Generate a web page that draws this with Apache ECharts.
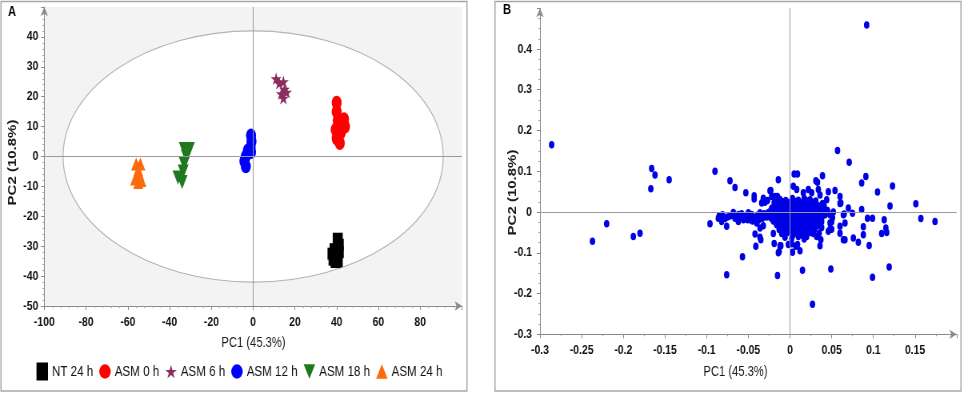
<!DOCTYPE html>
<html><head><meta charset="utf-8">
<script src="https://cdn.jsdelivr.net/npm/echarts@6/dist/echarts.min.js"></script>
<style>
html,body{margin:0;padding:0;background:#fff;overflow:hidden;width:964px;height:394px}
#c{width:1205px;height:394px;transform:scaleX(0.8);transform-origin:0 0}
</style>
</head><body><div id="c"></div>
<script>
// ---------- Panel A: PCA scores ----------
const groupNames = ['NT 24 h', 'ASM 0 h', 'ASM 6 h', 'ASM 12 h', 'ASM 18 h', 'ASM 24 h'];
const nt24 = [[40.5,-27.5],[41,-29.5],[39,-31],[38,-32.5],[41,-32],[38.5,-34.5],[40.5,-35],[39.5,-35.3]];
const asm0 = [[40,18],[40,15],[40.5,12],[43.5,12.5],[44,10],[39.5,9],[42,8],[40,6],[41.5,4.5]];
const asm6 = [[11,26],[12.5,24.5],[14.5,25],[15,22.5],[13.5,21],[14.5,19.5],[16,21.5]];
const asm12 = [[-1,7],[-0.8,5],[-1.2,3],[-1,1.5],[-2.5,2],[-3.5,0],[-4.2,-1.5],[-3.5,-3.3]];
const asm18 = [[-33,2.5],[-30.5,2.5],[-32,0],[-33,-2.5],[-33.5,-5],[-36,-7],[-34,-8.5]];
const asm24 = [[-56,-2.5],[-54,-2.5],[-55,-4.5],[-54.5,-6],[-56.5,-7.5],[-55,-8.7],[-53.5,-8]];
const hotellingEllipse = [[0, 0, 91, 42]]; // centre PC1, centre PC2, semi-axis PC1, semi-axis PC2
const axisNameX = 'PC1 (45.3%)';
const axisNameY = 'PC2 (10.8%)';

// ---------- Panel B: loadings ----------
const loadingsOuter = [
 [0.092,0.459],[-0.286,0.165],[0.057,0.151],[0.071,0.122],[-0.166,0.107],[-0.162,0.091],[-0.145,0.079],[-0.167,0.057],
 [-0.09,0.1],[-0.072,0.077],[-0.066,0.06],[-0.053,0.047],[-0.014,0.079],[0.005,0.093],[0.009,0.093],[0.039,0.089],
 [0.091,0.087],[0.086,0.071],[0.123,0.064],[0.105,0.049],[0.031,0.077],[0.033,0.073],[0.054,0.053],[-0.024,0.052],
 [-0.043,0.04],[-0.032,0.034],[-0.018,0.038],[-0.237,-0.072],[-0.22,-0.029],[-0.188,-0.06],[-0.18,-0.052],[-0.096,-0.029],
 [-0.076,-0.154],[-0.057,-0.11],[-0.015,-0.156],[-0.014,-0.1],[0.015,-0.143],[0.027,-0.226],[0.049,-0.14],[0.099,-0.16],
 [0.119,-0.135],[0.151,0.02],[0.157,-0.016],[0.174,-0.023],[0.12,0.015],[0.093,-0.015],[0.099,-0.015],[0.095,-0.082],
 [0.113,-0.019],[0.115,-0.039],[0.116,-0.05],[0.11,-0.053],[0.088,-0.036],[0.088,-0.056],[0.082,-0.074],[0.076,-0.064],
 [0.086,0.006],[0.075,-0.003],[0.07,0.01],[0.065,-0.005],[0.064,-0.068],[0.06,-0.052],[0.06,0.021],[0.06,0.038],
 [0.052,0.0],[0.051,-0.014],[0.05,-0.024],[0.048,-0.042],[0.045,0.004],[0.038,-0.038],[0.036,-0.083],[0.037,-0.068],
 [0.028,-0.053],[0.014,-0.056],[0.012,-0.095],[0.003,-0.099],[-0.002,-0.08],[0.002,-0.078],[0.009,-0.08],[-0.011,-0.083],
 [-0.013,-0.097],[-0.019,-0.077],[-0.02,-0.053],[-0.035,-0.068],[-0.041,-0.084],[-0.036,-0.062],[-0.042,-0.054],[-0.04,-0.027],
 [-0.036,-0.039],[-0.032,-0.034],[-0.062,-0.023],[-0.064,-0.015],[-0.068,-0.001],[-0.076,-0.035],[-0.082,-0.023],[-0.081,-0.007],
 [-0.086,-0.015],[-0.054,-0.011],[-0.05,-0.002],[-0.051,-0.019],[-0.056,-0.019],[-0.06,-0.011],[-0.048,-0.019],
 [-0.03,0.024],[-0.023,0.053],[-0.022,0.038],[-0.017,0.034],[-0.019,0.022],[0.004,0.063],[0.008,0.055],[0.016,0.047],
 [0.022,0.055],[0.026,0.047],[0.034,0.055],[0.036,0.042],[0.046,0.05],[0.044,0.03],[0.061,0.022],[0.041,0.014],
 [0.048,-0.007],[0.038,-0.023],[0.048,-0.027],[0.05,-0.042],[0.06,-0.035],[0.064,-0.007],[0.066,-0.027],[0.066,-0.068],
 [-0.012,-0.083],[0.007,-0.084],[0.02,-0.06],[0.032,-0.06],[0.035,-0.052],[0.046,-0.047],
 [-0.043,0.032],[-0.032,0.03],[-0.034,0.022],[-0.027,0.028],[-0.015,0.038]
];
const loadingsStreak = [
 [-0.046,-0.006],[-0.043,-0.014],[-0.039,-0.008],[-0.035,-0.016],[-0.031,-0.004],[-0.028,-0.012],[-0.045,-0.022],
 [-0.072,-0.01],[-0.078,-0.016],[-0.058,-0.004],[-0.085,-0.01],[-0.08,-0.015],[-0.075,-0.012],[-0.07,-0.008],
 [-0.066,-0.015],[-0.062,-0.006],[-0.058,-0.012],[-0.047,-0.016],[-0.04,-0.012],[-0.036,-0.002],[-0.033,-0.015],[-0.038,-0.02]
];
const loadingsCore = [
 [-0.012,0.031],[-0.005,0.028],[0.003,0.033],[0.01,0.029],[0.017,0.034],[0.024,0.03],[0.031,0.027],
 [-0.016,0.019],[-0.009,0.022],[-0.002,0.018],[0.005,0.021],[0.012,0.017],[0.019,0.022],[0.026,0.019],[0.033,0.016],[0.039,0.021],
 [-0.022,0.009],[-0.015,0.011],[-0.008,0.007],[-0.001,0.012],[0.006,0.008],[0.013,0.011],[0.02,0.007],[0.027,0.012],[0.034,0.008],[0.04,0.01],
 [-0.026,-0.001],[-0.019,0.002],[-0.012,-0.003],[-0.005,0.001],[0.002,-0.002],[0.009,0.002],[0.016,-0.001],[0.023,0.003],[0.03,-0.002],[0.037,0.001],[0.043,-0.003],
 [-0.024,-0.012],[-0.017,-0.008],[-0.01,-0.013],[-0.003,-0.009],[0.004,-0.012],[0.011,-0.008],[0.018,-0.013],[0.025,-0.009],[0.032,-0.012],[0.039,-0.01],
 [-0.02,-0.022],[-0.013,-0.019],[-0.006,-0.023],[0.001,-0.02],[0.008,-0.024],[0.015,-0.019],[0.022,-0.023],[0.029,-0.02],[0.036,-0.024],
 [-0.016,-0.031],[-0.009,-0.034],[-0.002,-0.03],[0.005,-0.033],[0.012,-0.029],[0.019,-0.034],[0.026,-0.031],[0.033,-0.034],
 [-0.013,-0.043],[-0.006,-0.04],[0.001,-0.044],[0.008,-0.041],[0.015,-0.045],[0.022,-0.041],[0.029,-0.044],
 [-0.01,-0.053],[-0.003,-0.05],[0.004,-0.055],[0.011,-0.051],[0.018,-0.054],[0.025,-0.05],
 [-0.006,-0.062],[0.002,-0.065],[0.01,-0.06],[0.017,-0.066]
];
const loadingsCore2 = [
 [-0.008,0.025],[0.0,0.024],[0.007,0.026],[0.014,0.023],[0.021,0.027],[0.028,0.024],
 [-0.019,0.014],[-0.012,0.016],[-0.005,0.013],[0.002,0.015],[0.009,0.014],[0.016,0.012],[0.023,0.016],[0.03,0.013],[0.037,0.015],
 [-0.023,0.004],[-0.016,0.006],[-0.009,0.003],[-0.002,0.005],[0.005,0.004],[0.012,0.006],[0.019,0.003],[0.026,0.006],[0.033,0.004],[0.04,0.005],
 [-0.021,-0.006],[-0.014,-0.005],[-0.007,-0.007],[0.0,-0.005],[0.007,-0.006],[0.014,-0.004],[0.021,-0.007],[0.028,-0.005],[0.035,-0.006],[0.042,-0.007],
 [-0.022,-0.016],[-0.015,-0.014],[-0.008,-0.017],[-0.001,-0.015],[0.006,-0.016],[0.013,-0.014],[0.02,-0.017],[0.027,-0.015],[0.034,-0.016],
 [-0.017,-0.026],[-0.01,-0.027],[-0.003,-0.025],[0.004,-0.027],[0.011,-0.025],[0.018,-0.027],[0.025,-0.025],[0.032,-0.027],
 [-0.012,-0.037],[-0.005,-0.036],[0.002,-0.038],[0.009,-0.036],[0.016,-0.038],[0.023,-0.036],[0.03,-0.038],
 [-0.008,-0.047],[0.0,-0.046],[0.007,-0.048],[0.014,-0.046],[0.021,-0.048]
];

// ---------- styling (page is drawn 1205 px wide and squeezed to 964 px) ----------
const SX = 0.8;
const SANS = "'Liberation Sans','DejaVu Sans',sans-serif";
const ELLIPSE = 'path://M0,50A50,50,0,1,1,100,50A50,50,0,1,1,0,50Z';
const STAR = 'path://M50,0L61.2,34.6L97.6,34.5L68.1,55.9L79.4,90.5L50,69L20.6,90.5L31.9,55.9L2.4,34.5L38.8,34.6Z';
const DOWN = 'path://M0,0L100,0L50,100Z';
const UP = 'path://M50,0L100,100L0,100Z';
const groupColors = ['#000000', '#ff0000', '#8b2d5f', '#0000ff', '#1e781e', '#fb6a0c'];
const groupSymbols = ['rect', ELLIPSE, STAR, ELLIPSE, DOWN, UP];
const groupSizes = [[12.5,12],[12.5,14],[13.5,12.5],[12.5,14],[13.5,14],[12.5,13]];
const groupData = [nt24, asm0, asm6, asm12, asm18, asm24];
const px = function (v) { return v / SX; };

const tickLabel = {fontFamily: SANS, fontWeight: 'bold', fontSize: 13, color: '#111'};
function valAxis(grid, min, max, interval, split, margin) {
  return {
    type: 'value', gridIndex: grid, min: min, max: max, interval: interval,
    axisLine: {show: true, onZero: false, symbol: ['none', 'arrow'], symbolSize: [7, 9],
      lineStyle: {color: '#8a8a8a', width: 1}},
    axisTick: {show: true, length: 4, lineStyle: {color: '#8a8a8a'}},
    minorTick: {show: true, splitNumber: split, length: 2, lineStyle: {color: '#9a9a9a'}},
    splitLine: {show: false}, minorSplitLine: {show: false},
    axisLabel: Object.assign({showMaxLabel: false, margin: margin}, tickLabel)
  };
}

const crossLine = {
  silent: true, symbol: 'none', animation: false,
  label: {show: false},
  lineStyle: {color: '#9a9a9a', width: 1, type: 'solid'},
  emphasis: {disabled: true},
  data: [{xAxis: 0}, {yAxis: 0}]
};

const series = [
  {
    type: 'custom', xAxisIndex: 0, yAxisIndex: 0, z: 1, silent: true, clip: false,
    data: hotellingEllipse,
    renderItem: function (params, api) {
      const c = api.coord([api.value(0), api.value(1)]);
      const s = api.size([api.value(2), api.value(3)]);
      return {type: 'ellipse', shape: {cx: c[0], cy: c[1], rx: s[0], ry: s[1]},
        style: {fill: '#ffffff', stroke: '#b4b4b4', lineWidth: 1.2}};
    }
  },
  {type: 'scatter', name: '_crossA', xAxisIndex: 0, yAxisIndex: 0, z: 2, data: [], markLine: crossLine},
  {type: 'scatter', name: '_crossB', xAxisIndex: 1, yAxisIndex: 1, z: 2, data: [], markLine: crossLine}
];
groupNames.forEach(function (n, i) {
  series.push({
    type: 'scatter', name: n, xAxisIndex: 0, yAxisIndex: 0, z: 3,
    symbol: groupSymbols[i], symbolSize: groupSizes[i],
    itemStyle: {color: groupColors[i], opacity: 1},
    data: groupData[i]
  });
});
series.push({
  type: 'scatter', name: 'loadings', xAxisIndex: 1, yAxisIndex: 1, z: 3,
  symbol: ELLIPSE, symbolSize: [6.8, 7.5], itemStyle: {color: '#0000e6', opacity: 1},
  data: loadingsOuter.concat(loadingsStreak, loadingsCore, loadingsCore2)
});

const chart = echarts.init(document.getElementById('c'));
chart.setOption({
  animation: false,
  backgroundColor: '#ffffff',
  grid: [
    {left: px(44.3), right: 1205 - px(462), top: 7, bottom: 88, show: true, backgroundColor: '#f3f3f3', borderWidth: 0, outerBoundsMode: 'none'},
    {left: px(540), right: 1205 - px(956.7), top: 8.2, bottom: 59.7, show: false, outerBoundsMode: 'none'}
  ],
  xAxis: [valAxis(0, -100, 100, 20, 5, 10), valAxis(1, -0.3, 0.2, 0.05, 2, 10)],
  yAxis: [valAxis(0, -50, 50, 10, 5, px(6)), valAxis(1, -0.3, 0.5, 0.1, 4, px(8))],
  legend: {
    data: groupNames, left: px(36.5), top: 362.5, orient: 'horizontal',
    itemWidth: px(11.5), itemHeight: 18, itemGap: px(6), padding: 0,
    selectedMode: false,
    textStyle: {fontFamily: SANS, fontSize: 14.5, color: '#111'}
  },
  graphic: [
    {type: 'rect', silent: true, z: -10, shape: {x: px(1), y: 1.5, width: px(466), height: 389.5},
      style: {fill: 'none', stroke: '#a8a8a8', lineWidth: 1.5}},
    {type: 'rect', silent: true, z: -10, shape: {x: px(495), y: 1.5, width: px(466), height: 389.5},
      style: {fill: 'none', stroke: '#a8a8a8', lineWidth: 1.5}},
    {type: 'text', silent: true, x: px(8), y: 5, style: {text: 'A', font: 'bold 14px ' + SANS, fill: '#000'}},
    {type: 'text', silent: true, x: px(503), y: 3, style: {text: 'B', font: 'bold 14px ' + SANS, fill: '#000'}},
    {type: 'text', silent: true, x: px(253.5), y: 343, style: {text: axisNameX, font: '14px ' + SANS, fill: '#1a1a1a', align: 'center', verticalAlign: 'middle'}},
    {type: 'text', silent: true, x: px(735.5), y: 371.7, style: {text: axisNameX, font: '14px ' + SANS, fill: '#1a1a1a', align: 'center', verticalAlign: 'middle'}},
    {type: 'text', silent: true, x: px(12.5), y: 162.5, rotation: Math.PI / 2, style: {text: axisNameY, font: 'bold 15px ' + SANS, fill: '#1a1a1a', align: 'center', verticalAlign: 'middle'}},
    {type: 'text', silent: true, x: px(513), y: 192.5, rotation: Math.PI / 2, style: {text: axisNameY, font: 'bold 15px ' + SANS, fill: '#1a1a1a', align: 'center', verticalAlign: 'middle'}}
  ],
  series: series
});
</script></body></html>
